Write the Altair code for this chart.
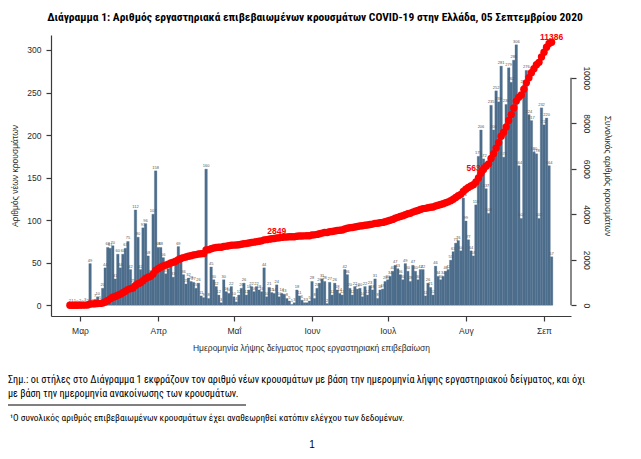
import altair as alt
import pandas as pd

# ---- daily new confirmed cases by sample date ----
feb_cases = [2, 1, 1, 0]  # 26-29 Feb
mar_cases = [2, 0, 3, 2, 49, 2, 7, 10, 5, 20, 44, 68, 67, 70, 31, 60, 44, 60, 67, 75,
             42, 25, 112, 80, 42, 91, 96, 58, 35, 107, 158]
apr_cases = [68, 68, 56, 37, 43, 47, 33, 50, 69, 52, 36, 25, 32, 28, 27, 20, 26, 11, 9, 160,
             8, 45, 30, 22, 12, 3, 30, 16, 14, 22]
may_cases = [10, 4, 12, 20, 26, 12, 18, 22, 16, 22, 18, 16, 44, 10, 21, 15, 14, 24, 10, 14,
             13, 8, 5, 1, 3, 18, 11, 6, 3, 3, 5]
jun_cases = [28, 8, 20, 26, 31, 28, 2, 27, 12, 26, 18, 14, 12, 42, 36, 20, 12, 22, 19, 20,
             10, 22, 12, 23, 18, 31, 8, 18, 19, 28]
jul_cases = [30, 34, 40, 47, 43, 36, 30, 49, 40, 28, 47, 40, 30, 42, 42, 11, 26, 21, 12, 46,
             34, 30, 34, 40, 42, 53, 63, 73, 76, 64, 126]
aug_cases = [99, 77, 64, 58, 118, 175, 206, 172, 137, 108, 235, 206, 252, 239, 281, 174, 236,
             279, 262, 288, 306, 164, 102, 259, 276, 224, 217, 180, 178, 102, 232]
sep_cases = [212, 220, 164, 57]

daily_cases = feb_cases + mar_cases + apr_cases + may_cases + jun_cases + jul_cases + aug_cases + sep_cases
first_date = "2020-02-26"
ref_date = pd.Timestamp("2020-03-01")

# month ticks
month_tick_dates = ["2020-03-01", "2020-04-01", "2020-05-01", "2020-06-01",
                    "2020-07-01", "2020-08-01", "2020-09-01"]
month_labels = ["Μαρ", "Απρ", "Μαΐ", "Ιουν", "Ιουλ", "Αυγ", "Σεπ"]

# annotated cumulative totals
ann_dates = ["2020-05-18", "2020-08-05", "2020-09-04"]
ann_values = [2849, 5633, 11386]

left_ticks = [0, 50, 100, 150, 200, 250, 300]
right_ticks = [0, 2000, 4000, 6000, 8000, 10000]

title_text = "Διάγραμμα 1: Αριθμός εργαστηριακά επιβεβαιωμένων κρουσμάτων COVID-19 στην Ελλάδα, 05 Σεπτεμβρίου 2020"
note_line1 = "Σημ.: οι στήλες στο Διάγραμμα 1 εκφράζουν τον αριθμό νέων κρουσμάτων με βάση την ημερομηνία λήψης εργαστηριακού δείγματος, και όχι"
note_line2 = "με βάση την ημερομηνία ανακοίνωσης των κρουσμάτων."
footnote = "¹Ο συνολικός αριθμός επιβεβαιωμένων κρουσμάτων έχει αναθεωρηθεί κατόπιν ελέγχου των δεδομένων."
page_no = "1"

# ---- tables ----
dates = pd.date_range(first_date, periods=len(daily_cases), freq="D")
df = pd.DataFrame({
    "day": (dates - ref_date).days,
    "cases": daily_cases,
})
tick_days = [(pd.Timestamp(d) - ref_date).days for d in month_tick_dates]
label_expr = "''"
for d, lab in reversed(list(zip(tick_days, month_labels))):
    label_expr = f"datum.value == {d} ? '{lab}' : ({label_expr})"

ann_df = pd.DataFrame({
    "day": [(pd.Timestamp(d) - ref_date).days for d in ann_dates],
    "value": ann_values,
    "label": [str(v) for v in ann_values],
})

BAR = "#4d6d8c"
AX = "#3a3a3a"
LAB = "#2b2b2b"
RED = "#ff0000"
FONT = "Liberation Sans"
NARROW = "Liberation Sans Narrow, Roboto Condensed, Roboto, Liberation Sans"

xs = alt.Scale(domain=[-11.5, 194.7], nice=False, zero=False)
ys_left = alt.Scale(domain=[-12.6, 317.6], nice=False, zero=False)
ys_right = alt.Scale(domain=[-470, 11876], nice=False, zero=False)

x_axis = alt.Axis(values=tick_days, labelExpr=label_expr, title="Ημερομηνία λήψης δείγματος προς εργαστηριακή επιβεβαίωση",
                  grid=False, tickSize=5, labelPadding=5, titlePadding=9)
left_axis = alt.Axis(values=left_ticks, title="Αριθμός νέων κρουσμάτων", grid=False, tickSize=5,
                     labelPadding=5, titlePadding=7, orient="left")
right_axis = alt.Axis(values=right_ticks, title="Συνολικός αριθμός κρουσμάτων", grid=False, tickSize=5,
                      labelPadding=5, titlePadding=12, orient="right", domain=False, format="d",
                      labelAngle=90, labelAlign="center", labelBaseline="bottom", titleAngle=90)

base = alt.Chart(df)
bars = base.transform_calculate(x0="datum.day - 0.5", x1="datum.day + 0.5").mark_bar(
    color=BAR, stroke=BAR, strokeWidth=0.3).encode(
    x=alt.X("x0:Q", scale=xs, axis=x_axis),
    x2="x1:Q",
    y=alt.Y("cases:Q", scale=ys_left, axis=left_axis),
    y2=alt.Y2Datum(0),
)
bar_text = base.mark_text(fontSize=4, dy=-1, baseline="bottom", color="#555555", font=FONT).encode(
    x=alt.X("day:Q", scale=xs),
    y=alt.Y("cases:Q", scale=ys_left),
    text="cases:Q",
)
left_layer = alt.layer(bars, bar_text)

cum = base.transform_window(cum="sum(cases)", sort=[alt.SortField("day")], frame=[None, 0]).mark_circle(
    size=55, color=RED, opacity=1).encode(
    x=alt.X("day:Q", scale=xs),
    y=alt.Y("cum:Q", scale=ys_right, axis=right_axis),
)
ann = alt.Chart(ann_df).mark_text(color=RED, fontWeight="bold", fontSize=8.5, dy=-9, font=FONT).encode(
    x=alt.X("day:Q", scale=xs),
    y=alt.Y("value:Q", scale=ys_right),
    text="label:N",
)
right_rule = alt.Chart(alt.Data(values=[{}])).mark_rule(color=AX, strokeWidth=1.2).encode(
    x=alt.value(520), y=alt.YDatum(0, scale=ys_right), y2=alt.Y2Datum(10000),
)
right_layer = alt.layer(cum, ann, right_rule)

one = alt.Data(values=[{}])
title_mark = alt.Chart(one).mark_text(text=title_text, fontWeight="bold", fontSize=11.5, font=NARROW,
                                      align="center", baseline="middle", color="#000000").encode(
    x=alt.value(264), y=alt.value(-17))
note1 = alt.Chart(one).mark_text(text=note_line1, fontSize=10.2, font=NARROW, align="left",
                                 baseline="middle", color="#000000").encode(x=alt.value(-43), y=alt.value(345))
note2 = alt.Chart(one).mark_text(text=note_line2, fontSize=10.2, font=NARROW, align="left",
                                 baseline="middle", color="#000000").encode(x=alt.value(-43), y=alt.value(359))
sep = alt.Chart(one).mark_rule(color="#000000", strokeWidth=1).encode(
    x=alt.value(-43), x2=alt.value(195), y=alt.value(370))
foot = alt.Chart(one).mark_text(text=footnote, fontSize=9.3, font=NARROW, align="left",
                                baseline="middle", color="#000000").encode(x=alt.value(-41), y=alt.value(383))
page = alt.Chart(one).mark_text(text=page_no, fontSize=10, font=FONT, align="center",
                                baseline="middle", color="#000000").encode(x=alt.value(261), y=alt.value(410))

chart = alt.layer(left_layer, right_layer, title_mark, note1, note2, sep, foot, page).resolve_scale(
    y="independent"
).properties(
    width=520, height=281,
    autosize=alt.AutoSizeParams(type="none"),
    padding={"left": 43, "top": 27, "right": 62, "bottom": 135},
).configure_view(stroke=None).configure_axis(
    labelFont=FONT, titleFont=FONT, labelFontSize=8.5, titleFontSize=8.5, titleFontWeight="normal",
    labelColor=LAB, titleColor=LAB, domainColor=AX, tickColor=AX, domainWidth=1.2, tickWidth=1.2,
)

chart.save("out.html", embed_options={"renderer": "svg", "actions": False})
